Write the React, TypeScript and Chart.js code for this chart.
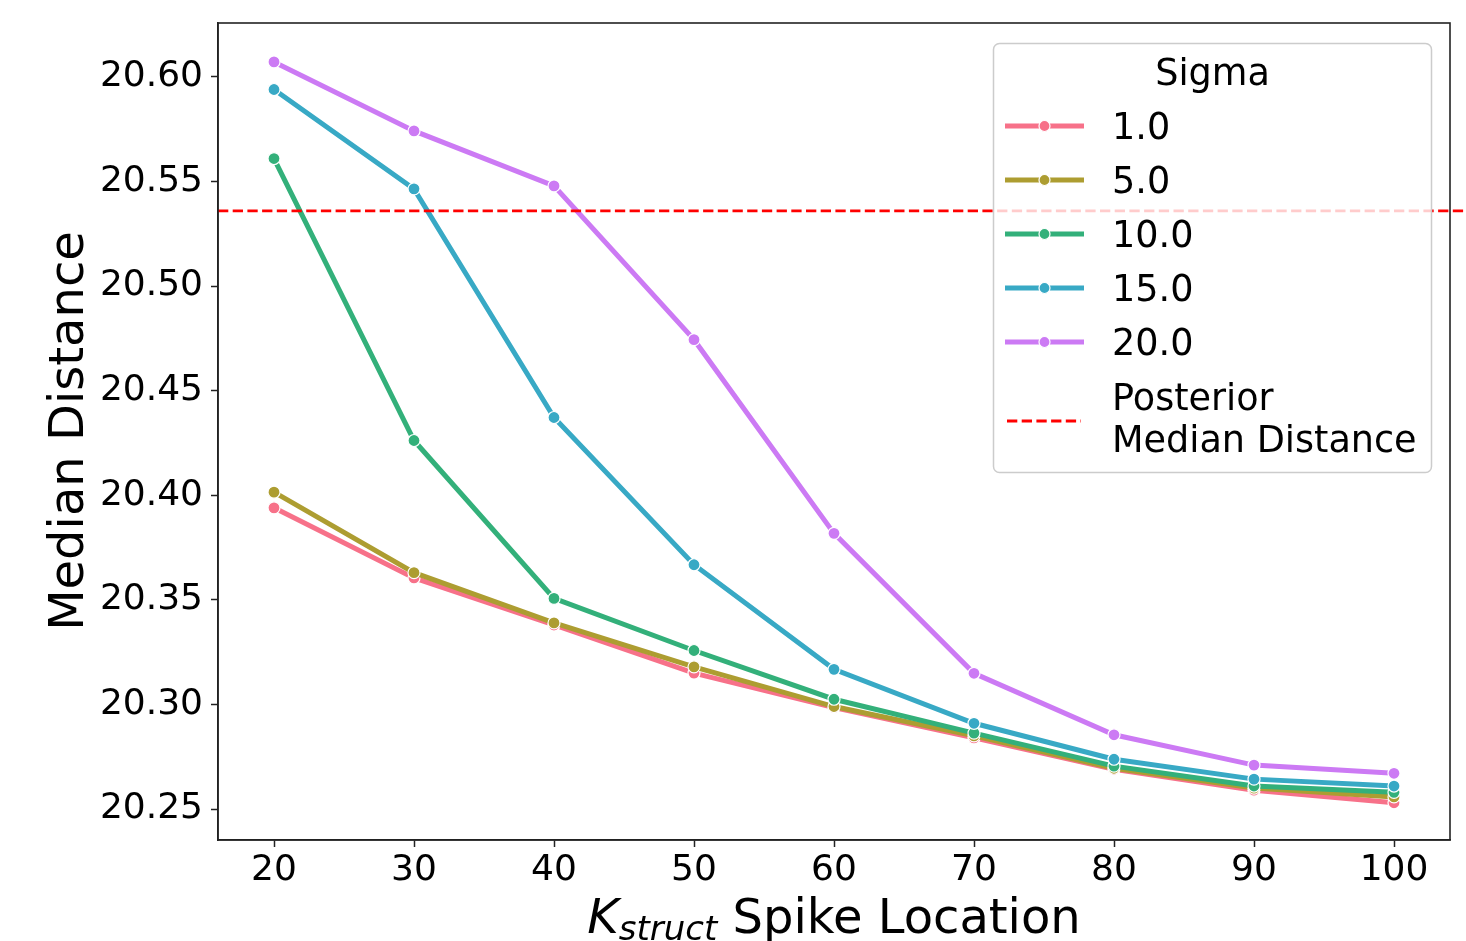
import React, { useEffect, useRef } from "react";
import { Chart, registerables } from "chart.js";

Chart.register(...registerables);

const FONT = "'DejaVu Sans', sans-serif";

// ---- data ----
const kSpikeLocations = [20, 30, 40, 50, 60, 70, 80, 90, 100];
const sigmaLabels = ["1.0", "5.0", "10.0", "15.0", "20.0"];
const sigma1 = [20.394, 20.3605, 20.338, 20.315, 20.2985, 20.284, 20.269, 20.259, 20.253];
const sigma5 = [20.4015, 20.363, 20.339, 20.318, 20.299, 20.285, 20.2695, 20.26, 20.2558];
const sigma10 = [20.561, 20.4262, 20.3507, 20.3258, 20.3025, 20.2863, 20.2705, 20.261, 20.258];
const sigma15 = [20.594, 20.5465, 20.4372, 20.3668, 20.3168, 20.291, 20.2738, 20.2643, 20.261];
const sigma20 = [20.6072, 20.5742, 20.5479, 20.4744, 20.3818, 20.3149, 20.2855, 20.271, 20.2671];
const posteriorMedianDistance = 20.536;
const xTicks = [20, 30, 40, 50, 60, 70, 80, 90, 100];
const yTicks = [20.25, 20.3, 20.35, 20.4, 20.45, 20.5, 20.55, 20.6];
const sigmaColors = ["#f77189", "#ad9d31", "#33b07a", "#38a9c5", "#cc7af4"];

const seriesValues = [sigma1, sigma5, sigma10, sigma15, sigma20];

const overlayPlugin = {
  id: "overlay",
  afterDatasetsDraw(chart: any) {
    const ctx = chart.ctx as CanvasRenderingContext2D;
    const area = chart.chartArea;
    const yScale = chart.scales.y;

    // posterior median line
    const yp = yScale.getPixelForValue(posteriorMedianDistance);
    ctx.save();
    ctx.strokeStyle = "#ff0000";
    ctx.lineWidth = 2.8;
    ctx.setLineDash([10.3, 4.4]);
    ctx.beginPath();
    ctx.moveTo(area.left, yp);
    ctx.lineTo(chart.width, yp);
    ctx.stroke();
    ctx.restore();

    // frame
    ctx.save();
    ctx.strokeStyle = "#222";
    ctx.lineWidth = 1.6;
    ctx.strokeRect(area.left, area.top, area.right - area.left, area.bottom - area.top);
    ctx.restore();

    // legend
    const lx0 = 993.5, ly0 = 43.5, lx1 = 1431.5, ly1 = 472.5, r = 6;
    ctx.save();
    ctx.beginPath();
    ctx.moveTo(lx0 + r, ly0);
    ctx.lineTo(lx1 - r, ly0);
    ctx.arcTo(lx1, ly0, lx1, ly0 + r, r);
    ctx.lineTo(lx1, ly1 - r);
    ctx.arcTo(lx1, ly1, lx1 - r, ly1, r);
    ctx.lineTo(lx0 + r, ly1);
    ctx.arcTo(lx0, ly1, lx0, ly1 - r, r);
    ctx.lineTo(lx0, ly0 + r);
    ctx.arcTo(lx0, ly0, lx0 + r, ly0, r);
    ctx.closePath();
    ctx.fillStyle = "rgba(255,255,255,0.8)";
    ctx.fill();
    ctx.strokeStyle = "#cccccc";
    ctx.lineWidth = 1.5;
    ctx.stroke();

    ctx.fillStyle = "#000";
    ctx.font = `36.6px ${FONT}`;
    ctx.textAlign = "center";
    ctx.textBaseline = "alphabetic";
    ctx.fillText("Sigma", (lx0 + lx1) / 2, 85);

    ctx.textAlign = "left";
    const datasets = chart.data.datasets;
    datasets.forEach((ds: any, i: number) => {
      const cy = 126 + i * 54;
      ctx.strokeStyle = ds.borderColor;
      ctx.lineWidth = 5;
      ctx.beginPath();
      ctx.moveTo(1005, cy);
      ctx.lineTo(1084, cy);
      ctx.stroke();
      ctx.beginPath();
      ctx.arc(1044.5, cy, 5.5, 0, Math.PI * 2);
      ctx.fillStyle = ds.borderColor;
      ctx.fill();
      ctx.strokeStyle = "#fff";
      ctx.lineWidth = 1.2;
      ctx.stroke();
      ctx.fillStyle = "#000";
      ctx.fillText(ds.label, 1112, cy + 13);
    });

    ctx.strokeStyle = "#ff0000";
    ctx.lineWidth = 2.8;
    ctx.setLineDash([10.3, 4.4]);
    ctx.beginPath();
    ctx.moveTo(1007, 421);
    ctx.lineTo(1081, 421);
    ctx.stroke();
    ctx.setLineDash([]);
    ctx.fillStyle = "#000";
    ctx.fillText("Posterior", 1112, 410);
    ctx.fillText("Median Distance", 1112, 452);
    ctx.restore();
  },
  afterDraw(chart: any) {
    const ctx = chart.ctx as CanvasRenderingContext2D;
    const area = chart.chartArea;
    ctx.save();
    ctx.fillStyle = "#000";
    // y title
    ctx.font = `48px ${FONT}`;
    ctx.textAlign = "center";
    ctx.textBaseline = "alphabetic";
    ctx.save();
    ctx.translate(83, 431);
    ctx.rotate(-Math.PI / 2);
    ctx.fillText("Median Distance", 0, 0);
    ctx.restore();

    // x title with subscript
    ctx.textAlign = "left";
    const fMain = `italic 48px ${FONT}`;
    const fSub = `italic 34px ${FONT}`;
    const fReg = `48px ${FONT}`;
    ctx.font = fMain;
    const wK = ctx.measureText("K").width;
    ctx.font = fSub;
    const wS = ctx.measureText("struct").width;
    ctx.font = fReg;
    const wR = ctx.measureText(" Spike Location").width;
    const total = wK + wS + wR;
    let x = (area.left + area.right) / 2 - total / 2;
    const base = 933;
    ctx.font = fMain;
    ctx.fillText("K", x, base);
    x += wK;
    ctx.font = fSub;
    ctx.fillText("struct", x, base + 7);
    x += wS;
    ctx.font = fReg;
    ctx.fillText(" Spike Location", x, base);
    ctx.restore();
  },
};

export default function App() {
  const ref = useRef<HTMLCanvasElement | null>(null);
  useEffect(() => {
    if (!ref.current) return;
    Chart.defaults.font.family = FONT;
    const datasets = sigmaLabels.map((label, i) => ({
      label,
      data: kSpikeLocations.map((x, j) => ({ x, y: seriesValues[i][j] })),
      borderColor: sigmaColors[i],
      backgroundColor: sigmaColors[i],
      pointBackgroundColor: sigmaColors[i],
      pointBorderColor: "#ffffff",
      pointBorderWidth: 1.2,
      pointRadius: 6,
      borderWidth: 5,
      tension: 0,
      order: sigmaLabels.length - i,
    }));
    const zeroPad = (s: any) => {
      s.paddingTop = 0;
      s.paddingBottom = 0;
      s.paddingLeft = 0;
      s.paddingRight = 0;
    };
    const chart = new Chart(ref.current, {
      type: "line",
      data: { datasets },
      plugins: [overlayPlugin],
      options: {
        responsive: false,
        animation: false,
        devicePixelRatio: 1,
        layout: { autoPadding: false, padding: { top: 23, right: 16, left: 0, bottom: 0 } },
        plugins: { legend: { display: false }, tooltip: { enabled: false } },
        scales: {
          x: {
            type: "linear",
            min: 16,
            max: 104,
            afterBuildTicks: (s: any) => {
              s.ticks = xTicks.map((v) => ({ value: v }));
            },
            afterFit: (s: any) => {
              s.height = 101;
              zeroPad(s);
            },
            ticks: {
              font: { size: 36, family: FONT },
              color: "#000",
              padding: 2,
              maxRotation: 0,
              autoSkip: false,
              callback: (v: any) => String(v),
            },
            grid: {
              drawOnChartArea: false,
              drawTicks: true,
              tickLength: 7,
              tickWidth: 1.5,
              tickColor: "#222",
            },
            border: { display: true, color: "#222", width: 1.6 },
          },
          y: {
            type: "linear",
            min: 20.2352,
            max: 20.6258,
            afterBuildTicks: (s: any) => {
              s.ticks = yTicks.map((v) => ({ value: v }));
            },
            afterFit: (s: any) => {
              s.width = 218;
              zeroPad(s);
            },
            ticks: {
              font: { size: 36, family: FONT },
              color: "#000",
              padding: 8,
              autoSkip: false,
              callback: (v: any) => Number(v).toFixed(2),
            },
            grid: {
              drawOnChartArea: false,
              drawTicks: true,
              tickLength: 7,
              tickWidth: 1.5,
              tickColor: "#222",
            },
            border: { display: true, color: "#222", width: 1.6 },
          },
        },
      },
    } as any);
    return () => chart.destroy();
  }, []);
  return (
    <div style={{ position: "absolute", left: 0, top: 0, width: 1466, height: 941, background: "#fff" }}>
      <canvas ref={ref} width={1466} height={941} style={{ width: 1466, height: 941, display: "block" }} />
    </div>
  );
}
